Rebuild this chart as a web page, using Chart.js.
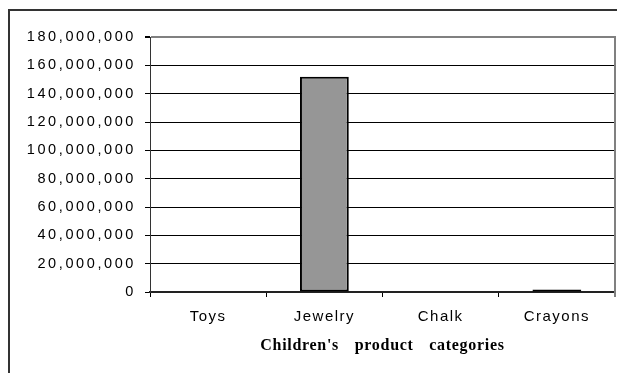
<!DOCTYPE html>
<html lang="en">
<head>
    <meta charset="UTF-8">
    <title>Children's product categories</title>
    <script src="https://cdn.jsdelivr.net/npm/chart.js@4.4.1/dist/chart.umd.min.js"></script>
    <style>
        body {
            margin: 0;
            padding: 0;
            background: #fff;
            overflow: hidden;
        }
        .frame {
            position: absolute;
            left: 8px;
            top: 9px;
            width: 700px;
            height: 500px;
            border-top: 2px solid #333;
            border-left: 2px solid #333;
        }
        .chart-box {
            position: absolute;
            left: 0;
            top: 0;
            width: 617px;
            height: 373px;
        }
    </style>
</head>
<body>
    <div class="frame"></div>
    <div class="chart-box">
        <canvas id="chart" width="617" height="373"></canvas>
    </div>

<script>
const categories = ['Toys', 'Jewelry', 'Chalk', 'Crayons'];
const amounts = [0, 152000000, 0, 1800000];
const yMin = 0;
const yMax = 180000000;
const yStep = 20000000;
const xTitle = "Children's product categories";

// linear axis whose tick labels are drawn with wider letter spacing
class SpacedLinear extends Chart.LinearScale {
    static id = 'spacedLinear';
    static defaults = Chart.LinearScale.defaults;
    drawLabels(area) {
        const c = this.ctx;
        c.save();
        c.letterSpacing = '2.6px';
        super.drawLabels(area);
        c.restore();
    }
}

// category axis with spaced labels and a widely spaced title
class SpacedCategory extends Chart.CategoryScale {
    static id = 'spacedCategory';
    static defaults = Chart.CategoryScale.defaults;
    drawLabels(area) {
        const c = this.ctx;
        c.save();
        c.letterSpacing = '1.5px';
        super.drawLabels(area);
        c.restore();
    }
    drawTitle() {
        const c = this.ctx;
        c.save();
        c.letterSpacing = '0.7px';
        c.wordSpacing = '11px';
        super.drawTitle();
        c.restore();
    }
}

Chart.register(SpacedLinear, SpacedCategory);

// gray right edge of the plot area
const plotEdge = {
    id: 'plotEdge',
    afterDraw(chart) {
        const {ctx, chartArea} = chart;
        ctx.save();
        ctx.strokeStyle = '#808080';
        ctx.lineWidth = 2;
        ctx.beginPath();
        ctx.moveTo(chartArea.right, chartArea.top - 1);
        ctx.lineTo(chartArea.right, chartArea.bottom + 5);
        ctx.stroke();
        ctx.restore();
    }
};

const ctx = document.getElementById('chart').getContext('2d');
new Chart(ctx, {
    type: 'bar',
    data: {
        labels: categories,
        datasets: [{
            data: amounts,
            backgroundColor: '#969696',
            borderColor: '#000',
            borderWidth: 2,
            borderSkipped: false,
            categoryPercentage: 1,
            barPercentage: 0.42
        }]
    },
    plugins: [plotEdge],
    options: {
        responsive: false,
        animation: false,
        layout: {
            padding: { left: 0, top: 37, right: 2, bottom: 0 }
        },
        plugins: {
            legend: { display: false },
            tooltip: { enabled: false }
        },
        scales: {
            x: {
                type: 'spacedCategory',
                afterFit(scale) { scale.height = 81; },
                grid: {
                    drawOnChartArea: false,
                    drawTicks: true,
                    tickLength: 5,
                    color: '#000',
                    tickColor: '#000'
                },
                border: { color: '#222', width: 2 },
                ticks: {
                    color: '#000',
                    padding: 11,
                    font: { family: 'Liberation Sans, Arial, sans-serif', size: 15 }
                },
                title: {
                    display: true,
                    text: xTitle,
                    color: '#000',
                    padding: { top: 0, bottom: 18 },
                    font: { family: 'Liberation Serif, Times New Roman, serif', size: 16, weight: 'bold' }
                }
            },
            y: {
                type: 'spacedLinear',
                min: yMin,
                max: yMax,
                afterFit(scale) { scale.width = 150; },
                grid: {
                    color: c => (c.tick && c.tick.value === yMax) ? '#808080' : '#000',
                    lineWidth: c => (c.tick && c.tick.value === yMax) ? 2 : 1,
                    tickColor: '#000',
                    tickLength: 5
                },
                border: { color: '#333', width: 1 },
                ticks: {
                    stepSize: yStep,
                    color: '#000',
                    padding: 9,
                    font: { family: 'Liberation Sans, Arial, sans-serif', size: 14.5 },
                    callback: v => v.toLocaleString('en-US')
                }
            }
        }
    }
});
</script>
</body>
</html>
